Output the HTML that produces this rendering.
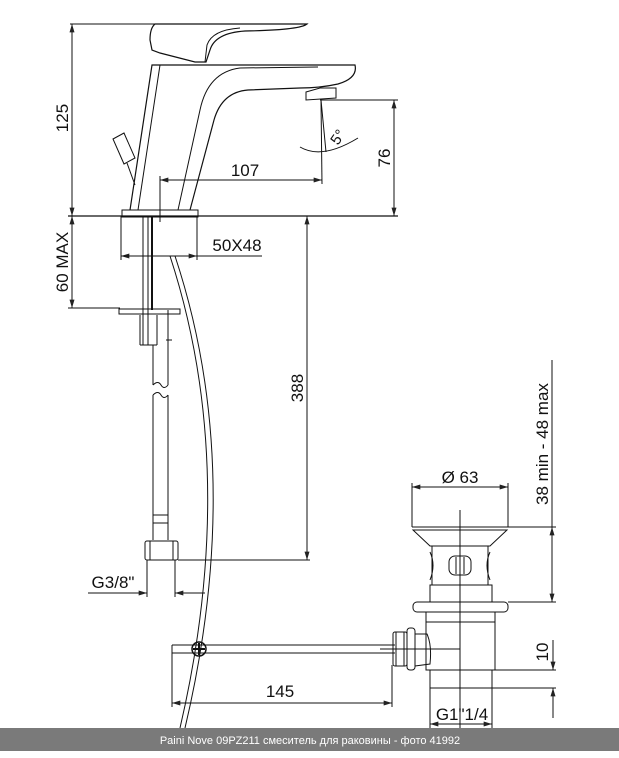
<!DOCTYPE html>
<html><head><meta charset="utf-8"><style>
html,body{margin:0;padding:0;background:#fff;width:619px;height:758px;overflow:hidden}
svg{display:block}
text{font-family:"Liberation Sans Narrow","Liberation Sans",sans-serif;fill:#111}
path,rect,circle,line{fill:none}
</style></head><body>
<svg width="619" height="758" viewBox="0 0 619 758" xmlns="http://www.w3.org/2000/svg">
<defs>
<marker id="a" viewBox="0 0 10 6" refX="10" refY="3" markerWidth="10" markerHeight="5" orient="auto-start-reverse" markerUnits="userSpaceOnUse"><path d="M0,0 L10,3 L0,6 z" style="fill:#222"/></marker>
</defs>
<g stroke="#111" stroke-width="1" fill="none">
<line x1="70" y1="24" x2="155" y2="24"/>
<line x1="72" y1="24" x2="72" y2="216" marker-start="url(#a)" marker-end="url(#a)"/>
<line x1="68" y1="216" x2="398" y2="216" stroke-width="1.3"/>
<line x1="72" y1="216" x2="72" y2="308" marker-start="url(#a)" marker-end="url(#a)"/>
<line x1="68" y1="308" x2="120" y2="308"/>
<path fill="none" d="M155,24 L307,24 Q300,30 245,31 Q215,33 210,50 L206,62 L195,62 L160,53 L152,50 L150,40 Q150,28 155,24 Z" stroke-width="1.2"/>
<path fill="none" d="M205,62 L207,45 Q212,30 240,28"/>
<path fill="none" d="M130,210 L152,65 L355,65 Q358,78 338,84 Q320,88 300,88 L248,90 Q222,92 214,120 L190,210" stroke-width="1.2"/>
<line x1="138" y1="210" x2="160" y2="65"/>
<path fill="none" d="M178,210 L200,110 Q208,72 240,68 L318,67"/>
<path fill="none" d="M306,92 L320,88 L336,88 L336,98 L306,100 Z"/>
<path fill="none" d="M113,139 L124,133 L135,158 L124,164 Z"/>
<line x1="127" y1="163" x2="135" y2="185"/>
<rect x="122" y="210" width="76" height="7" fill="none"/>
<line x1="320" y1="100" x2="398" y2="100"/>
<line x1="394" y1="100" x2="394" y2="216" marker-start="url(#a)" marker-end="url(#a)"/>
<line x1="160" y1="180" x2="322" y2="180" marker-start="url(#a)" marker-end="url(#a)"/>
<line x1="160" y1="176" x2="160" y2="222"/>
<line x1="321" y1="100" x2="322" y2="184"/>
<line x1="321" y1="100" x2="326" y2="152"/>
<path fill="none" d="M300,147 Q322,160 358,138"/>
<line x1="121" y1="216" x2="121" y2="260"/>
<line x1="197" y1="216" x2="197" y2="260"/>
<line x1="121" y1="256" x2="262" y2="256" marker-start="url(#a)"/>
<line x1="121" y1="256" x2="197" y2="256" marker-end="url(#a)"/>
<line x1="143" y1="217" x2="143" y2="345"/>
<line x1="148" y1="217" x2="148" y2="345"/>
<line x1="152" y1="217" x2="152" y2="310" stroke-width="2"/>
<line x1="140" y1="315" x2="140" y2="345"/><line x1="157" y1="315" x2="157" y2="345"/>
<line x1="140" y1="345" x2="157" y2="345"/>
<rect x="119" y="309" width="61" height="5" fill="none"/>
<line x1="153" y1="345" x2="153" y2="385"/><line x1="168" y1="310" x2="168" y2="385"/>
<line x1="166" y1="340" x2="172" y2="340"/>
<path fill="none" d="M153,385 Q158,380 161,385 Q164,390 168,385"/>
<path fill="none" d="M153,395 Q158,390 161,395 Q164,400 168,395"/>
<line x1="153" y1="395" x2="153" y2="515"/><line x1="168" y1="395" x2="168" y2="515"/>
<rect x="153" y="515" width="15" height="8" fill="none"/>
<line x1="153" y1="523" x2="153" y2="540"/><line x1="168" y1="523" x2="168" y2="540"/>
<rect x="145" y="541" width="33" height="19" rx="2" fill="none"/>
<line x1="150" y1="541" x2="150" y2="560"/><line x1="173" y1="541" x2="173" y2="560"/>
<line x1="178" y1="560" x2="310" y2="560"/>
<line x1="307" y1="216" x2="307" y2="560" marker-start="url(#a)" marker-end="url(#a)"/>
<line x1="147" y1="560" x2="147" y2="597"/><line x1="175" y1="560" x2="175" y2="597"/>
<line x1="88" y1="593" x2="147" y2="593" marker-end="url(#a)"/>
<line x1="205" y1="593" x2="175" y2="593" marker-end="url(#a)"/>
<path fill="none" d="M170,256 Q240,470 180,728"/>
<path fill="none" d="M175,256 Q246,470 185,728"/>
<line x1="172" y1="645" x2="395" y2="645"/><line x1="172" y1="653" x2="395" y2="653"/>
<line x1="172" y1="645" x2="172" y2="707"/>
<circle cx="199" cy="649" r="7" stroke-width="1.5" fill="#fff"/>
<line x1="199" y1="643" x2="199" y2="655" stroke-width="2"/><line x1="193" y1="649" x2="205" y2="649" stroke-width="2"/>
<line x1="172" y1="703" x2="392" y2="703" marker-start="url(#a)" marker-end="url(#a)"/>
<line x1="392" y1="665" x2="392" y2="707"/>
<rect x="393" y="632" width="14" height="34" rx="2" fill="none"/>
<line x1="396" y1="632" x2="396" y2="666"/><line x1="404" y1="632" x2="404" y2="666"/>
<rect x="407" y="628" width="8" height="42" rx="3" fill="none"/>
<path fill="none" d="M415,634 L427,634 Q432,645 430,664 L415,666"/>
<line x1="380" y1="649" x2="460" y2="649"/>
<line x1="412" y1="487" x2="508" y2="487" marker-start="url(#a)" marker-end="url(#a)"/>
<line x1="412" y1="483" x2="412" y2="527"/><line x1="508" y1="483" x2="508" y2="527"/>
<line x1="412" y1="527" x2="508" y2="527"/>
<path fill="none" d="M413,530 L507,530 L490,546 L430,546 Z"/>
<path fill="none" d="M432,546 L432,585 M488,546 L488,585 M430,552 Q436,565 430,580 M490,552 Q484,565 490,580"/>
<rect x="449" y="556" width="22" height="19" rx="6" fill="none"/>
<line x1="456" y1="557" x2="456" y2="574"/><line x1="464" y1="557" x2="464" y2="574"/>
<rect x="430" y="585" width="62" height="17" fill="none"/>
<rect x="413" y="602" width="95" height="10" rx="4" fill="none"/>
<rect x="426" y="612" width="69" height="58" fill="none"/>
<line x1="426" y1="622" x2="495" y2="622"/>
<rect x="430" y="670" width="62" height="18" fill="none"/>
<line x1="460" y1="510" x2="460" y2="730"/>
<line x1="508" y1="527" x2="556" y2="527"/><line x1="508" y1="602" x2="556" y2="602"/>
<line x1="552" y1="527" x2="552" y2="602" marker-start="url(#a)" marker-end="url(#a)"/>
<line x1="552" y1="360" x2="552" y2="527"/>
<line x1="492" y1="670" x2="556" y2="670"/><line x1="492" y1="688" x2="556" y2="688"/>
<line x1="553" y1="640" x2="553" y2="670" marker-end="url(#a)"/>
<line x1="553" y1="718" x2="553" y2="688" marker-end="url(#a)"/>
<line x1="430" y1="688" x2="430" y2="728"/><line x1="492" y1="688" x2="492" y2="728"/>
<line x1="430" y1="724" x2="492" y2="724" marker-start="url(#a)" marker-end="url(#a)"/>
</g>
<g font-size="17">
<text x="68" y="118" transform="rotate(-90 68 118)" text-anchor="middle">125</text>
<text x="68" y="262" transform="rotate(-90 68 262)" text-anchor="middle">60 MAX</text>
<text x="245" y="176" text-anchor="middle">107</text>
<text x="390" y="158" transform="rotate(-90 390 158)" text-anchor="middle">76</text>
<text x="342" y="140" transform="rotate(-55 342 140)" text-anchor="middle" font-size="15">5°</text>
<text x="237" y="251" text-anchor="middle">50X48</text>
<text x="303" y="388" transform="rotate(-90 303 388)" text-anchor="middle">388</text>
<text x="113" y="588" text-anchor="middle">G3/8"</text>
<text x="280" y="697" text-anchor="middle">145</text>
<text x="460" y="483" text-anchor="middle">Ø 63</text>
<text x="548" y="444" transform="rotate(-90 548 444)" text-anchor="middle">38  min  -  48  max</text>
<text x="548" y="652" transform="rotate(-90 548 652)" text-anchor="middle">10</text>
<text x="462" y="720" text-anchor="middle">G1"1/4</text>
</g>
<rect x="0" y="728" width="619" height="23" style="fill:#7a7a7a"/>
<text x="310" y="744" text-anchor="middle" font-size="11" style="fill:#fff;font-family:'Liberation Sans',sans-serif">Paini Nove 09PZ211 смеситель для раковины - фото 41992</text>
</svg>
</body></html>
